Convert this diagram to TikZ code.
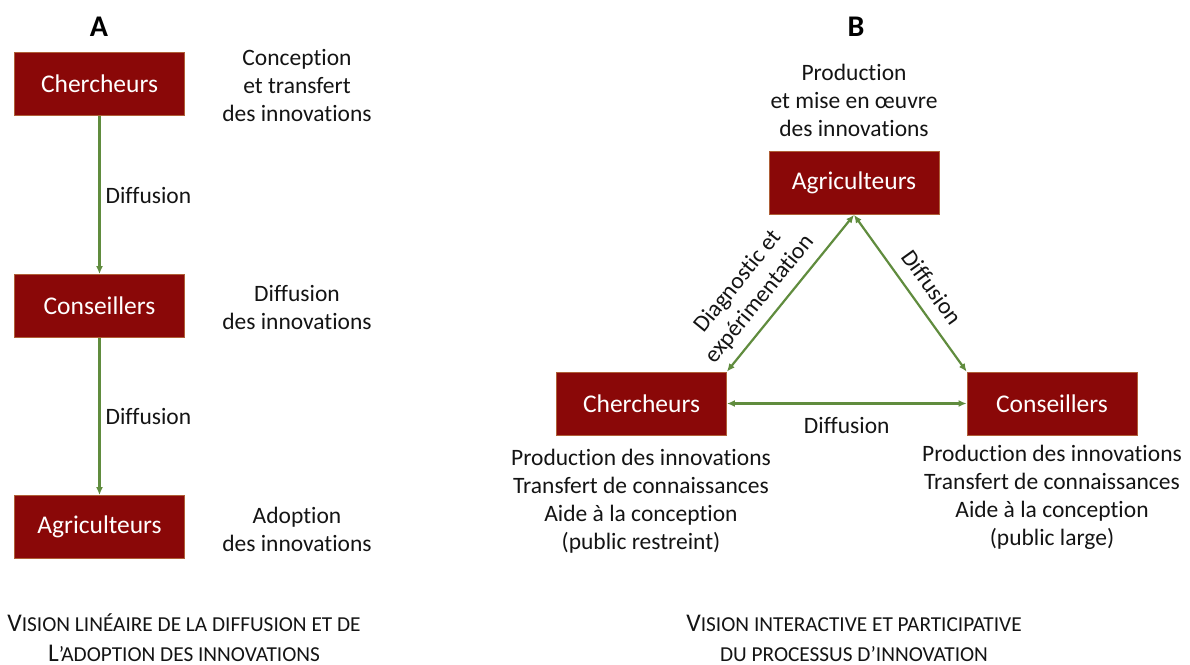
\documentclass[tikz,border=0pt]{standalone}
\usepackage{fontspec}
\setmainfont[Ligatures={NoCommon}]{Carlito}
\usetikzlibrary{arrows.meta}
\definecolor{boxred}{RGB}{138,8,8}
\definecolor{boxedge}{RGB}{175,95,55}
\definecolor{arrgreen}{RGB}{96,140,62}
\definecolor{txt}{RGB}{20,20,20}
\newcommand\capbig{\fontsize{25.5}{30}\selectfont}
\newcommand\capsml{\fontsize{21.3}{30}\selectfont}
\begin{document}
\begin{tikzpicture}[x=1pt,y=-1pt,
  actor/.style={draw=boxedge, line width=0.8pt, fill=boxred, text=white,
    minimum width=170pt, minimum height=63pt, inner sep=0pt,
    font=\fontsize{25.5}{28}\selectfont},
  desc/.style={align=center, text=txt, font=\fontsize{23.5}{28}\selectfont},
  lab/.style={text=txt, font=\fontsize{23.5}{28}\selectfont},
  captext/.style={align=center, text=txt, font=\capsml},
  flow/.style={draw=arrgreen, line width=2.2pt, -{Latex[length=8pt,width=7pt]}},
  dflow/.style={draw=arrgreen, line width=2.2pt, {Latex[length=8pt,width=7pt]}-{Latex[length=8pt,width=7pt]}},
  paneltitle/.style={font=\fontsize{30}{30}\bfseries\selectfont, text=black}
]
\useasboundingbox (0,0) rectangle (1190,664);

% ---------- Panel A ----------
\node[paneltitle] (tA) at (99,27) {A};
\node[actor] (aC) at (99.5,84) {Chercheurs};
\node[actor] (aS) at (99.5,306) {Conseillers};
\node[actor] (aG) at (99.5,527) {Agriculteurs};

\draw[flow] (aC.south) -- node[lab, right, inner sep=5pt] (lA1) {Diffusion} (aS.north);
\draw[flow] (aS.south) -- node[lab, right, inner sep=5pt] (lA2) {Diffusion} (aG.north);

\node[desc] (dA1) at (297,85) {Conception\\et transfert\\des innovations};
\node[desc] (dA2) at (297,307) {Diffusion\\des innovations};
\node[desc] (dA3) at (297,529) {Adoption\\des innovations};

% ---------- Panel B ----------
\node[paneltitle] (tB) at (856,27) {B};
\node[actor] (bG) at (854,183) {Agriculteurs};
\node[actor] (bC) at (641.5,403.5) {Chercheurs};
\node[actor] (bS) at (1052,403.5) {Conseillers};

\node[desc] (dBG) at (854,100) {Production\\et mise en œuvre\\des innovations};
\node[desc] (dBC) at (641,501) {Production des innovations\\Transfert de connaissances\\Aide à la conception\\(public restreint)};
\node[desc] (dBS) at (1052,497) {Production des innovations\\Transfert de connaissances\\Aide à la conception\\(public large)};

\draw[dflow] (bC.north east) -- node[desc, sloped, above, pos=0.38, inner sep=9pt] (lB1) {Diagnostic et\\expérimentation} (bG.south);
\draw[dflow] (bG.south) -- node[lab, sloped, above, pos=0.54, inner sep=12pt] (lB2) {Diffusion} (bS.north west);
\draw[dflow] (bC.east) -- node[lab, below, inner sep=13pt] (lB3) {Diffusion} (bS.west);

% ---------- Captions ----------
\node[captext] (cA) at (184,638) {{\capbig V}ISION LINÉAIRE DE LA DIFFUSION ET DE\\{\capbig L}’ADOPTION DES INNOVATIONS};
\node[captext] (cB) at (854,638) {{\capbig V}ISION INTERACTIVE ET PARTICIPATIVE\\DU PROCESSUS D’INNOVATION};
\end{tikzpicture}
\end{document}
